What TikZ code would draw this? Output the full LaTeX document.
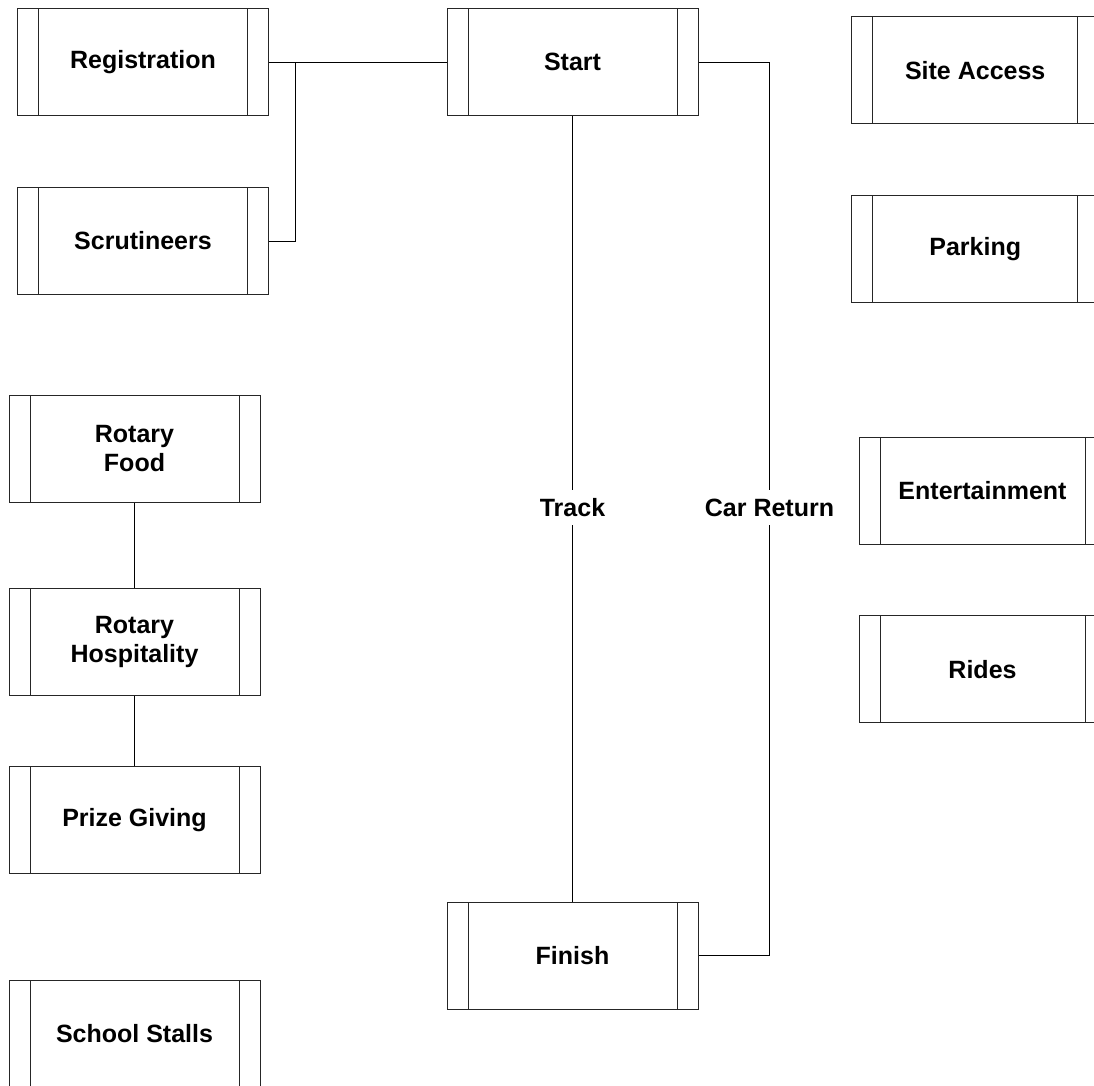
\documentclass[tikz,border=0pt]{standalone}
\usepackage{fontspec}
\setmainfont{Liberation Sans}
\usetikzlibrary{positioning,calc}

\begin{document}
\begin{tikzpicture}[x = 1pt, y = -1pt, line width = 1pt,
  font = \bfseries\fontsize{25}{29}\selectfont,
  proc/.style = {draw = black!85, minimum width = 251pt, minimum height = 107pt,
    inner sep = 0pt, align = center,
    path picture = {
      \draw[black!85] ([xshift = 21pt]path picture bounding box.north west) -- ([xshift = 21pt]path picture bounding box.south west);
      \draw[black!85] ([xshift = -21pt]path picture bounding box.north east) -- ([xshift = -21pt]path picture bounding box.south east);}},
  lbl/.style = {inner sep = 0pt, minimum height = 34pt}]
\useasboundingbox (0, 0) rectangle (1094, 1085);
\node[proc] (reg) at (143, 62) {Registration};
\node[proc] (scrut) at (143, 241) {Scrutineers};
\node[proc] (start) at (572.5, 62) {Start};
\node[proc] (finish) at (572.5, 955.5) {Finish};
\node[proc, minimum width = 247pt] (site) at (975.2, 70.3) {Site Access};
\node[proc, minimum width = 247pt] (park) at (975.2, 249.2) {Parking};
\node[proc, minimum width = 247pt] (ent) at (982.5, 490.8) {Entertainment};
\node[proc, minimum width = 247pt] (rides) at (982.5, 669.3) {Rides};
\node[proc] (food) at (134.5, 448.7) {Rotary\\Food};
\node[proc] (hosp) at (134.5, 641.5) {Rotary\\Hospitality};
\node[proc] (prize) at (134.5, 820) {Prize Giving};
\node[proc] (stalls) at (134.5, 1033.5) {School Stalls};
\node[lbl] (track) at (572.5, 507.5) {Track};
\node[lbl] (carret) at (769.5, 507.5) {Car Return};
\coordinate (join) at (295, 62);
\draw (reg.east) -- (start.west);
\draw (scrut.east) -| (join);
\draw (start.south) -- (track.north);
\draw (track.south) -- (finish.north);
\draw (start.east) -| (carret.north);
\draw (carret.south) |- (finish.east);
\draw (food.south) -- (hosp.north);
\draw (hosp.south) -- (prize.north);
\end{tikzpicture}
\end{document}
